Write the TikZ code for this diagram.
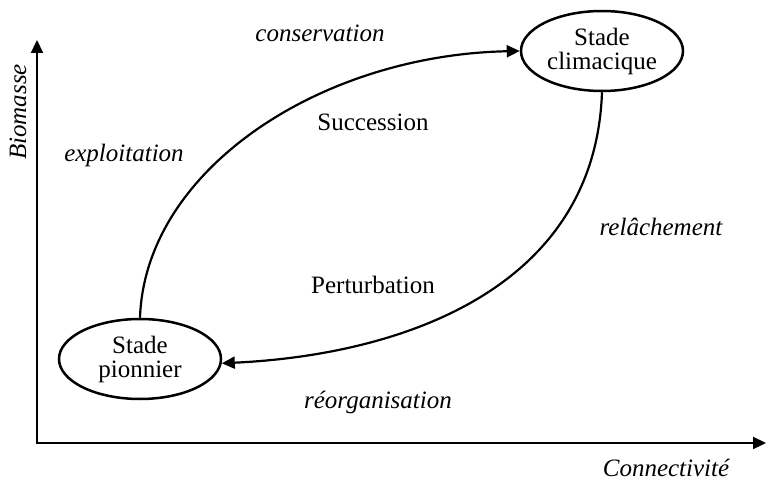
\documentclass[tikz,border=0pt]{standalone}
\usepackage{fontspec}
\setmainfont{Liberation Serif}
\usetikzlibrary{shapes.geometric, arrows.meta}

\tikzset{
  stade/.style={draw, ellipse, line width=2.5pt, minimum width=162pt, minimum height=80pt,
    inner sep=0pt, align=center, font=\fontsize{25}{24}\selectfont},
  lbl/.style={font=\fontsize{25}{30}\selectfont},
  ilbl/.style={font=\fontsize{25}{30}\selectfont\itshape},
  fleche/.style={line width=2.2pt, -{Triangle[length=13pt,width=12pt]}},
  axe/.style={line width=2.2pt, {Triangle[length=13pt,width=12pt]}-{Triangle[length=13pt,width=12pt]}},
}

\begin{document}
\begin{tikzpicture}[x=1pt,y=1pt]
    \useasboundingbox (0,0) rectangle (771,-481);
    \coordinate (o) at (37,-443);
    \coordinate (ytop) at (37,-40);
    \coordinate (xend) at (766,-443);
    \draw[axe] (ytop) -- (o) -- (xend);
    \node[ilbl, rotate=90] (biomasse) at (18,-112) {Biomasse};
    \node[ilbl] (connect) at (666,-468) {Connectivité};

    \node[stade] (pio) at (140,-359) {Stade\\pionnier};
    \node[stade] (cli) at (602,-51) {Stade\\climacique};

    \draw[fleche] (pio.north) .. controls (145,-170) and (320,-55) .. (cli.west);
    \draw[fleche] (cli.south) .. controls (595,-290) and (400,-355) .. (pio.-3);

    \node[lbl] (succ) at (373,-122) {Succession};
    \node[lbl] (pert) at (373,-285) {Perturbation};
    \node[ilbl] (cons) at (320,-33) {conservation};
    \node[ilbl] (expl) at (124,-155) {exploitation};
    \node[ilbl] (relach) at (661,-227) {relâchement};
    \node[ilbl] (reorg) at (378,-402) {réorganisation};
\end{tikzpicture}
\end{document}
